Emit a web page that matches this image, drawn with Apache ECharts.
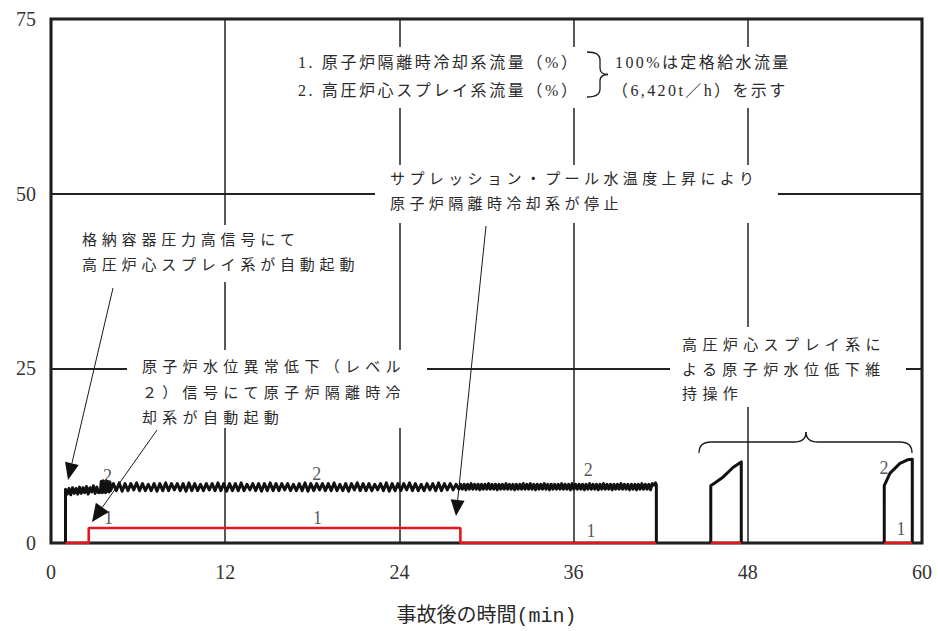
<!DOCTYPE html>
<html><head><meta charset="utf-8">
<script src="https://cdn.jsdelivr.net/npm/echarts@6/dist/echarts.min.js"></script>
<style>html,body{margin:0;padding:0;background:#fff;overflow:hidden}#c{width:938px;height:631px}</style>
</head><body><div id="c"></div>
<script>
// ---- data ----
const xTicks = [0, 12, 24, 36, 48, 60];
const yTicks = [0, 25, 50, 75];
const xName = '事故後の時間(min)';

// 1. RCIC flow (%), null = break
const rcicTime = [1.0, 2.6, 2.6, 28.2, 28.2, 41.7, null, 45.45, 47.55, null, 57.4, 59.33];
const rcicFlow = [0, 0, 2.15, 2.15, 0, 0, null, 0, 0, null, 0, 0];

// 2. HPCS flow (%)
const hpcsPreTime = [1.0, 1.0];
const hpcsPreFlow = [0, 7.7];
// oscillating segments: start time, sampling step (min)
const hpcsSegStart = [1.0, 3.4, 4.1, 28.1];
const hpcsSegStep = [0.12, 0.06, 0.2, 0.12];
const hpcsEarly = [7.7,7.0,7.8,6.9,7.9,7.1,7.8,7.0,8.0,7.1,7.9,7.2,8.1,7.0,7.9,7.3,8.2,7.1,8.0,7.2];
const hpcsBlock = [7.3,8.8,7.2,8.9,7.3,8.8,7.2,8.9,7.4,8.8,7.3,8.7];
const hpcsMain = [
 7.5,8.5,7.5,8.6,7.4,8.5,7.5,8.5,7.6,8.6,7.5,8.5,7.5,8.4,7.5,8.5,7.4,8.5,7.5,8.6,
 7.5,8.5,7.6,8.5,7.5,8.5,7.4,8.6,7.5,8.5,7.5,8.4,7.5,8.5,7.6,8.5,7.5,8.6,7.5,8.5,
 7.4,8.5,7.5,8.5,7.5,8.6,7.5,8.4,7.6,8.5,7.5,8.5,7.4,8.5,7.5,8.6,7.5,8.5,7.5,8.5,
 7.6,8.5,7.5,8.4,7.5,8.5,7.5,8.6,7.4,8.5,7.5,8.5,7.6,8.5,7.5,8.5,7.5,8.6,7.5,8.4,
 7.5,8.5,7.4,8.5,7.6,8.6,7.5,8.5,7.5,8.5,7.5,8.4,7.6,8.5,7.5,8.6,7.4,8.5,7.5,8.5,
 7.5,8.5,7.6,8.6,7.5,8.5,7.5,8.4,7.5,8.5,7.6,8.5,7.5,8.6,7.5,8.5,7.6,8.5,7.6,8.4];
const hpcsDense = [
 7.7,8.4,7.7,8.4,7.6,8.4,7.7,8.5,7.7,8.4,7.7,8.4,7.6,8.4,7.7,8.4,7.7,8.5,7.7,8.4,
 7.7,8.4,7.6,8.4,7.7,8.4,7.7,8.5,7.7,8.4,7.7,8.4,7.6,8.4,7.7,8.4,7.7,8.5,7.7,8.4,
 7.7,8.5,7.7,8.4,7.6,8.4,7.7,8.4,7.7,8.5,7.7,8.4,7.6,8.4,7.7,8.4,7.7,8.4,7.7,8.5,
 7.7,8.4,7.7,8.4,7.6,8.5,7.7,8.4,7.7,8.4,7.7,8.4,7.6,8.4,7.7,8.5,7.7,8.4,7.7,8.4,
 7.6,8.4,7.7,8.5,7.7,8.4,7.7,8.4,7.6,8.4,7.7,8.4,7.7,8.5,7.7,8.4,7.7,8.4,7.6,8.4,
 7.7,8.4,7.6,8.4,7.7,8.5,7.7,8.4,7.7,8.4,7.6,8.5,8.3];
const hpcsPostTime = [41.65, 41.7, 41.7, null, 45.45, 45.45, 45.8, 46.29, 47.0, 47.55, 47.55, null, 57.4, 57.4, 57.8, 58.48, 59.0, 59.33, 59.33];
const hpcsPostFlow = [8.6, 8.3, 0, null, 0, 8.2, 8.7, 9.42, 10.84, 11.6, 0, null, 0, 8.2, 10.0, 11.4, 11.9, 12.0, 0];

// curve number labels
const curveLabelText = ['2', '1', '2', '1', '2', '1', '2', '1'];
const curveLabelTime = [3.89, 3.96, 18.30, 18.36, 37.01, 37.20, 57.38, 58.55];
const curveLabelVal = [9.66, 3.55, 9.87, 3.55, 10.47, 1.78, 10.72, 2.06];

// ---- build ----
function pairs(ts, vs) { return ts.map((t, i) => (t === null ? ['-', '-'] : [t, vs[i]])); }
const hpcsSegs = [hpcsEarly, hpcsBlock, hpcsMain, hpcsDense];
let hpcsData = pairs(hpcsPreTime, hpcsPreFlow);
hpcsSegs.forEach((vals, k) => {
  vals.forEach((v, i) => hpcsData.push([+(hpcsSegStart[k] + i * hpcsSegStep[k]).toFixed(3), v]));
});
hpcsData = hpcsData.concat(pairs(hpcsPostTime, hpcsPostFlow));
const rcicData = pairs(rcicTime, rcicFlow);
const labelData = curveLabelText.map((s, i) => ({ name: s, value: [curveLabelTime[i], curveLabelVal[i]] }));

const CJK = "'Noto Sans CJK JP'";
const SERIF = "'Liberation Serif','Noto Sans CJK JP'";
const NUM = 'Liberation Serif';
const MONO = "'Liberation Mono','Noto Sans CJK JP'";
const spacingMap = {};
const graphics = [];
function rect(x, y, w, h) { graphics.push({ type: 'rect', shape: { x, y, width: w, height: h }, style: { fill: '#fff' }, z: 50, silent: true }); }
function txt(x, y, t, size, fam, sp) {
  spacingMap[t] = sp;
  graphics.push({ type: 'text', x, y, style: { text: t, fontSize: size, fontFamily: fam, fill: '#2a2a2a', align: 'left', verticalAlign: 'middle' }, z: 52, silent: true });
}
function seg(x1, y1, x2, y2, w) { graphics.push({ type: 'line', shape: { x1, y1, x2, y2 }, style: { stroke: '#1a1a1a', lineWidth: w || 1.2 }, z: 55, silent: true }); }
function quad(x1, y1, cx, cy, x2, y2) { graphics.push({ type: 'bezierCurve', shape: { x1, y1, cpx1: cx, cpy1: cy, x2, y2 }, style: { stroke: '#1a1a1a', lineWidth: 1.3, fill: null }, z: 55, silent: true }); }
function arrow(x0, y0, x1, y1, len, hw) {
  const dx = x1 - x0, dy = y1 - y0, L = Math.hypot(dx, dy), ux = dx / L, uy = dy / L;
  const bx = x1 - ux * len, by = y1 - uy * len;
  seg(x0, y0, bx, by, 1);
  graphics.push({ type: 'polygon', shape: { points: [[x1, y1], [bx - uy * hw, by + ux * hw], [bx + uy * hw, by - ux * hw]] }, style: { fill: '#111' }, z: 56, silent: true });
}

// white boxes behind text
rect(290, 47, 540, 61);
rect(375, 165, 403, 58);
rect(70, 225, 305, 57);
rect(127, 350, 300, 78);
rect(670, 327, 236, 80);

// legend
txt(298, 62, '1. 原子炉隔離時冷却系流量（%）', 16, SERIF, 2.6);
txt(298, 90, '2. 高圧炉心スプレイ系流量（%）', 16, SERIF, 2.6);
txt(615, 62, '100%は定格給水流量', 16, SERIF, 2.4);
txt(612, 90, '（6,420t／h）を示す', 16, SERIF, 2.4);
// small brace
quad(587, 52, 600, 52, 600, 60); seg(600, 60, 600, 68, 1.3); quad(600, 68, 600, 74.5, 608, 74.5);
quad(608, 74.5, 600, 74.5, 600, 81); seg(600, 81, 600, 89, 1.3); quad(600, 89, 600, 97, 587, 97);

// annotations
txt(82, 238, '格納容器圧力高信号にて', 15, CJK, 4.8);
txt(82, 263, '高圧炉心スプレイ系が自動起動', 15, CJK, 4.8);
txt(142, 365, '原子炉水位異常低下（レベル', 15, CJK, 5.3);
txt(142, 391, '２）信号にて原子炉隔離時冷', 15, CJK, 5.3);
txt(142, 416, '却系が自動起動', 15, CJK, 5.3);
txt(390, 177, 'サプレッション・プール水温度上昇により', 15, CJK, 4.4);
txt(390, 202, '原子炉隔離時冷却系が停止', 15, CJK, 4.4);
txt(682, 343, '高圧炉心スプレイ系に', 15, CJK, 5.4);
txt(682, 368, 'よる原子炉水位低下維', 15, CJK, 5.4);
txt(682, 392, '持操作', 15, CJK, 5.4);

// arrows
arrow(113, 288, 68, 480, 17, 7);
arrow(157, 430, 92, 522, 18, 8);
arrow(486, 226, 456, 516, 16, 7);

// large brace
quad(699, 453, 699, 442, 711, 442); seg(711, 442, 794, 442, 1.3); quad(794, 442, 806, 442, 806, 432);
quad(806, 432, 806, 442, 818, 442); seg(818, 442, 900, 442, 1.3); quad(900, 442, 912, 442, 912, 453);

const chart = echarts.init(document.getElementById('c'), null, { renderer: 'svg', width: 938, height: 631 });
chart.setOption({
  animation: false,
  backgroundColor: '#fff',
  grid: { left: 51, right: 16, top: 19, bottom: 84, show: true, borderColor: '#111', borderWidth: 3, containLabel: false },
  xAxis: {
    type: 'value', min: xTicks[0], max: xTicks[xTicks.length - 1], interval: xTicks[1] - xTicks[0],
    axisLine: { show: false }, axisTick: { show: false },
    axisLabel: { margin: 19, fontSize: 20, fontFamily: NUM, color: '#333' },
    splitLine: { show: true, lineStyle: { color: '#222', width: 1.5 } },
    name: xName, nameLocation: 'middle', nameGap: 63,
    nameTextStyle: { fontSize: 20, fontFamily: MONO, color: '#2a2a2a' }
  },
  yAxis: {
    type: 'value', min: yTicks[0], max: yTicks[yTicks.length - 1], interval: yTicks[1] - yTicks[0],
    axisLine: { show: false }, axisTick: { show: false },
    axisLabel: { margin: 15, fontSize: 20, fontFamily: NUM, color: '#333' },
    splitLine: { show: true, lineStyle: { color: '#222', width: 2 } }
  },
  series: [
    { type: 'line', name: '2', data: hpcsData, symbol: 'none', connectNulls: false, z: 3,
      lineStyle: { color: '#111', width: 3, join: 'round' } },
    { type: 'line', name: '1', data: rcicData, symbol: 'none', connectNulls: false, z: 4,
      lineStyle: { color: '#e8161c', width: 2.6 } },
    { type: 'scatter', data: labelData, symbolSize: 0, z: 5, silent: true,
      label: { show: true, position: 'inside', formatter: p => p.name, fontSize: 18, fontFamily: NUM, color: '#2a2a2a' } }
  ],
  graphic: { elements: graphics }
});

function applySpacing() {
  document.querySelectorAll('#c svg text').forEach(t => {
    const s = spacingMap[t.textContent];
    if (s != null) { t.setAttribute('letter-spacing', s + 'px'); t.style.letterSpacing = s + 'px'; }
  });
}
applySpacing();
setTimeout(applySpacing, 0);
setTimeout(applySpacing, 100);
chart.on('finished', applySpacing);
</script>
</body></html>
